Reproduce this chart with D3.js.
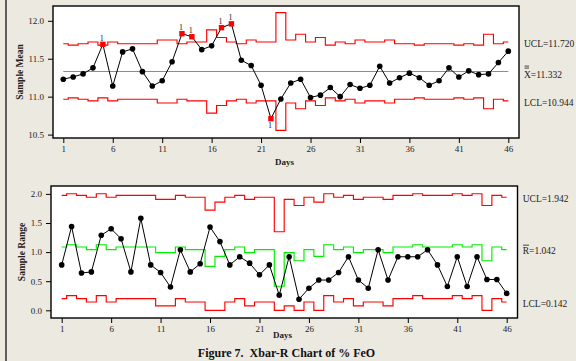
<!DOCTYPE html>
<html>
<head>
<meta charset="utf-8">
<script src="https://cdn.jsdelivr.net/npm/d3@7"></script>
<style>
  html, body { margin: 0; padding: 0; background: #ECE9E0; }
  svg { display: block; }
</style>
</head>
<body>
<svg id="chart" width="576" height="361"></svg>
<script>
// ---- data ----------------------------------------------------------------
const days = d3.range(1, 47);

const sampleMean = [
  11.23, 11.26, 11.30, 11.38, 11.69, 11.14, 11.59, 11.63, 11.33, 11.14,
  11.21, 11.46, 11.83, 11.79, 11.62, 11.67, 11.91, 11.96, 11.48, 11.41,
  11.15, 10.71, 10.97, 11.18, 11.23, 10.99, 11.02, 11.12, 11.00, 11.16,
  11.11, 11.15, 11.40, 11.18, 11.25, 11.31, 11.25, 11.15, 11.21, 11.38,
  11.26, 11.34, 11.29, 11.30, 11.45, 11.60
];

const sampleRange = [
  0.78, 1.44, 0.64, 0.66, 1.29, 1.40, 1.23, 0.66, 1.58, 0.78,
  0.65, 0.40, 1.04, 0.66, 0.80, 1.43, 1.18, 0.78, 0.92, 0.81,
  0.61, 0.78, 0.26, 0.92, 0.19, 0.38, 0.52, 0.52, 0.65, 0.92,
  0.52, 0.38, 1.04, 0.52, 0.92, 0.92, 0.92, 1.04, 0.78, 0.41,
  0.92, 0.41, 0.92, 0.53, 0.53, 0.29
];

// samples taken per day (limits are stepped by subgroup size)
const subgroupSize = [
  9, 10, 9, 8, 10, 8, 9, 9, 9, 9,
  7, 7, 9, 8, 8, 4, 6, 8, 9, 7,
  8, 8, 2, 7, 5, 8, 6, 10, 8, 9,
  7, 8, 8, 7, 9, 9, 10, 9, 9, 9,
  10, 9, 10, 5, 9, 8
];

// control limits for each subgroup size
const sizeLevels = [2, 4, 5, 6, 7, 8, 9, 10];
const meanUCL  = [12.108, 11.881, 11.823, 11.780, 11.747, 11.720, 11.698, 11.679];
const meanLCL  = [10.556, 10.783, 10.841, 10.884, 10.917, 10.944, 10.966, 10.985];
const rangeUCL = [1.349, 1.720, 1.800, 1.858, 1.905, 1.942, 1.974, 2.002];
const rangeCL  = [0.413, 0.754, 0.851, 0.927, 0.990, 1.042, 1.087, 1.127];
const rangeLCL = [0.000, 0.000, 0.000, 0.000, 0.075, 0.142, 0.200, 0.252];
const grandMean = 11.332;

const flaggedDays = [5, 13, 14, 17, 18, 22];
const dayTicks = [1, 6, 11, 16, 21, 26, 31, 36, 41, 46];
const meanTicks = [10.5, 11.0, 11.5, 12.0];
const rangeTicks = [0.0, 0.5, 1.0, 1.5, 2.0];

const meanLabels = ["UCL=11.720", "X=11.332", "LCL=10.944"];
const rangeLabels = ["UCL=1.942", "R=1.042", "LCL=0.142"];
const lastLimitsMean = [11.720, 11.332, 10.944];
const lastLimitsRange = [1.942, 1.042, 0.142];

// ---- drawing -------------------------------------------------------------
const svg = d3.select("#chart");
const FONT = "'Liberation Serif', 'Times New Roman', serif";
const RED = "#ff0000", GREEN = "#00ee00";

svg.append("rect").attr("width", 576).attr("height", 361).attr("fill", "#ECE9E0");
svg.append("line").attr("x1", 6).attr("x2", 6).attr("y1", 0).attr("y2", 361)
  .attr("stroke", "#5e5e5e").attr("stroke-width", 2);

const lvl = n => sizeLevels.indexOf(n);

function panel(cfg) {
  const g = svg.append("g");
  const x = d3.scaleLinear().domain([1, 46]).range(cfg.xr);
  const y = d3.scaleLinear().domain(cfg.yd).range(cfg.yr);

  g.append("rect")
    .attr("x", cfg.box[0]).attr("y", cfg.box[1])
    .attr("width", cfg.box[2] - cfg.box[0]).attr("height", cfg.box[3] - cfg.box[1])
    .attr("fill", "#fff");

  const stepLine = d3.line().x(d => x(d.day)).y(d => y(d.v)).curve(d3.curveStep);

  cfg.limits.forEach(lim => {
    g.append("path")
      .datum(days.map((d, i) => ({ day: d, v: lim.values(i) })))
      .attr("d", stepLine)
      .attr("fill", "none")
      .attr("stroke", lim.color)
      .attr("stroke-width", 1.15);
  });

  // data trace
  const pts = days.map((d, i) => ({ day: d, v: cfg.values[i] }));
  g.append("path").datum(pts)
    .attr("d", d3.line().x(d => x(d.day)).y(d => y(d.v)))
    .attr("fill", "none").attr("stroke", "#000").attr("stroke-width", 1);

  const normal = pts.filter(p => !cfg.flags.includes(p.day));
  const flagged = pts.filter(p => cfg.flags.includes(p.day));
  g.selectAll("circle.pt").data(normal).join("circle")
    .attr("class", "pt")
    .attr("cx", d => x(d.day)).attr("cy", d => y(d.v)).attr("r", 2.8).attr("fill", "#000");
  g.selectAll("rect.flag").data(flagged).join("rect")
    .attr("class", "flag")
    .attr("x", d => x(d.day) - 2.7).attr("y", d => y(d.v) - 2.7)
    .attr("width", 5.4).attr("height", 5.4).attr("fill", "#ff0000");
  g.selectAll("text.flag").data(flagged).join("text")
    .attr("class", "flag")
    .attr("x", d => x(d.day) - 1)
    .attr("y", d => y(d.v) < y(grandMean) ? y(d.v) - 3.6 : y(d.v) + 9.6)
    .attr("text-anchor", "middle")
    .attr("font-family", FONT).attr("font-size", 8).attr("fill", "#222")
    .text("1");

  // frame
  g.append("rect")
    .attr("x", cfg.box[0]).attr("y", cfg.box[1])
    .attr("width", cfg.box[2] - cfg.box[0]).attr("height", cfg.box[3] - cfg.box[1])
    .attr("fill", "none").attr("stroke", "#000").attr("stroke-width", 1.4);

  // axes
  const ya = g.append("g").attr("transform", `translate(${cfg.box[0]},0)`)
    .call(d3.axisLeft(y).tickValues(cfg.yTicks).tickFormat(d3.format(".1f")).tickSize(5).tickPadding(4));
  const xa = g.append("g").attr("transform", `translate(0,${cfg.box[3]})`)
    .call(d3.axisBottom(x).tickValues(dayTicks).tickSize(5).tickPadding(3));
  [ya, xa].forEach(a => {
    a.select(".domain").remove();
    a.selectAll("line").attr("stroke", "#000").attr("stroke-width", 1);
    a.selectAll("text").attr("font-family", FONT).attr("font-size", 9).attr("fill", "#222");
  });

  g.append("text")
    .attr("x", cfg.daysPos[0]).attr("y", cfg.daysPos[1])
    .attr("text-anchor", "middle").attr("font-family", FONT)
    .attr("font-size", 9).attr("font-weight", "bold").attr("fill", "#222").text("Days");

  g.append("text")
    .attr("transform", `translate(${cfg.yTitlePos[0]},${cfg.yTitlePos[1]}) rotate(-90)`)
    .attr("text-anchor", "middle").attr("font-family", FONT)
    .attr("font-size", 9.5).attr("font-weight", "bold").attr("fill", "#222").text(cfg.yTitle);

  // limit labels on the right
  cfg.labels.forEach((t, i) => {
    const ty = y(cfg.labelValues[i]) + cfg.labelDy[i];
    g.append("text").attr("x", cfg.labelX).attr("y", ty)
      .attr("font-family", FONT).attr("font-size", 9.5).attr("fill", "#222").text(t);
  });
  return { x, y, g };
}

const meanPanel = panel({
  box: [53, 6, 519, 138],
  xr: [63.3, 508.3],
  yd: [10.5, 12.0], yr: [134.6, 20.8],
  yTicks: meanTicks,
  values: sampleMean,
  flags: flaggedDays,
  limits: [
    { color: RED, values: i => meanUCL[lvl(subgroupSize[i])] },
    { color: GREEN, values: i => grandMean },
    { color: RED, values: i => meanLCL[lvl(subgroupSize[i])] }
  ],
  daysPos: [284.5, 165],
  yTitle: "Sample Mean", yTitlePos: [23, 72],
  labels: meanLabels, labelValues: lastLimitsMean, labelDy: [5.2, 6.2, 5.0], labelX: 524
});

const rangePanel = panel({
  box: [51, 186, 517.5, 318],
  xr: [61.7, 506.7],
  yd: [0, 2], yr: [310.3, 193.9],
  yTicks: rangeTicks,
  values: sampleRange,
  flags: [],
  limits: [
    { color: RED, values: i => rangeUCL[lvl(subgroupSize[i])] },
    { color: GREEN, values: i => rangeCL[lvl(subgroupSize[i])] },
    { color: RED, values: i => rangeLCL[lvl(subgroupSize[i])] }
  ],
  daysPos: [282.5, 338],
  yTitle: "Sample Range", yTitlePos: [25, 252],
  labels: rangeLabels, labelValues: lastLimitsRange, labelDy: [5.0, 4.8, 5.2], labelX: 522.7
});

// double bar over X and single bar over R
const ym = meanPanel.y(grandMean) + 6.2;
[ -11.6, -9.6 ].forEach(dy => {
  svg.append("line").attr("x1", 524.5).attr("x2", 529).attr("y1", ym + dy).attr("y2", ym + dy)
    .attr("stroke", "#333").attr("stroke-width", 0.9);
});
const yr = rangePanel.y(1.042) + 4.8;
svg.append("line").attr("x1", 523).attr("x2", 529).attr("y1", yr - 9.3).attr("y2", yr - 9.3)
  .attr("stroke", "#333").attr("stroke-width", 0.9);

// figure caption
svg.append("text").attr("x", 286.5).attr("y", 356.5)
  .attr("text-anchor", "middle").attr("font-family", FONT)
  .attr("font-size", 12).attr("font-weight", "bold").attr("fill", "#111")
  .attr("xml:space", "preserve").style("white-space", "pre")
  .text("Figure 7.  Xbar-R Chart of % FeO");
</script>
</body>
</html>
